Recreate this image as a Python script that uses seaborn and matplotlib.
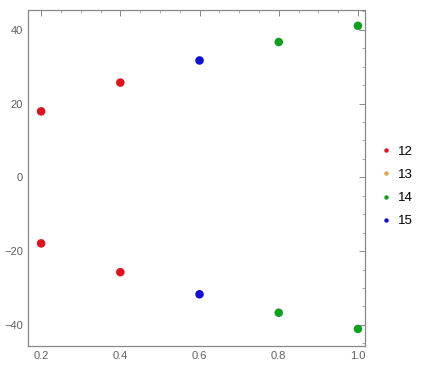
import matplotlib
matplotlib.use("Agg")
import matplotlib.pyplot as plt
from matplotlib.lines import Line2D
from matplotlib.ticker import MultipleLocator
import seaborn as sns
import pandas as pd

x_vals = [0.2, 0.2, 0.4, 0.4, 0.6, 0.6, 0.8, 0.8, 1.0, 1.0]
y_vals = [17.9, -17.9, 25.7, -25.7, 31.7, -31.7, 36.7, -36.7, 41.1, -41.1]
groups = ["12", "12", "12", "12", "15", "15", "14", "14", "14", "14"]
legend_labels = ["12", "13", "14", "15"]
colors = ["#E0101C", "#E8A040", "#10A020", "#1010D8"]

df = pd.DataFrame({"x": x_vals, "y": y_vals, "g": groups})
palette = dict(zip(legend_labels, colors))

sns.set_style("white")
plt.rcParams["font.family"] = ["Liberation Sans", "DejaVu Sans"]
fig = plt.figure(figsize=(4.25, 3.68), dpi=100)
ax = fig.add_axes([0.066, 0.060, 0.793, 0.913])

sns.scatterplot(data=df, x="x", y="y", hue="g", hue_order=legend_labels,
                palette=palette, s=38, edgecolor="none", legend=False, ax=ax)

ax.set_xlim(0.167, 1.018)
ax.set_ylim(-45.7, 45.4)
ax.set_xlabel("")
ax.set_ylabel("")
ax.xaxis.set_major_locator(MultipleLocator(0.2))
ax.xaxis.set_minor_locator(MultipleLocator(0.05))
ax.yaxis.set_major_locator(MultipleLocator(20))
ax.yaxis.set_minor_locator(MultipleLocator(5))
ax.set_xticks([0.2, 0.4, 0.6, 0.8, 1.0])
ax.set_xticklabels(["0.2", "0.4", "0.6", "0.8", "1.0"])
gray = "#888888"
for sp in ax.spines.values():
    sp.set_color(gray)
    sp.set_linewidth(0.9)
ax.tick_params(which="both", direction="in", top=True, right=True,
               colors=gray, labelcolor="#606060", labelsize=8)
ax.tick_params(which="major", length=4, width=0.7)
ax.tick_params(which="minor", length=2, width=0.5)

handles = [Line2D([0], [0], marker="o", linestyle="", markersize=3.2,
                  markerfacecolor=c, markeredgecolor="none") for c in colors]
fig.legend(handles, legend_labels, loc="center left",
           bbox_to_anchor=(0.864, 0.493), frameon=False, fontsize=9.5,
           handletextpad=0.4, labelspacing=0.83, handlelength=1.0,
           labelcolor="black")

fig.savefig("out.png", dpi=100)
